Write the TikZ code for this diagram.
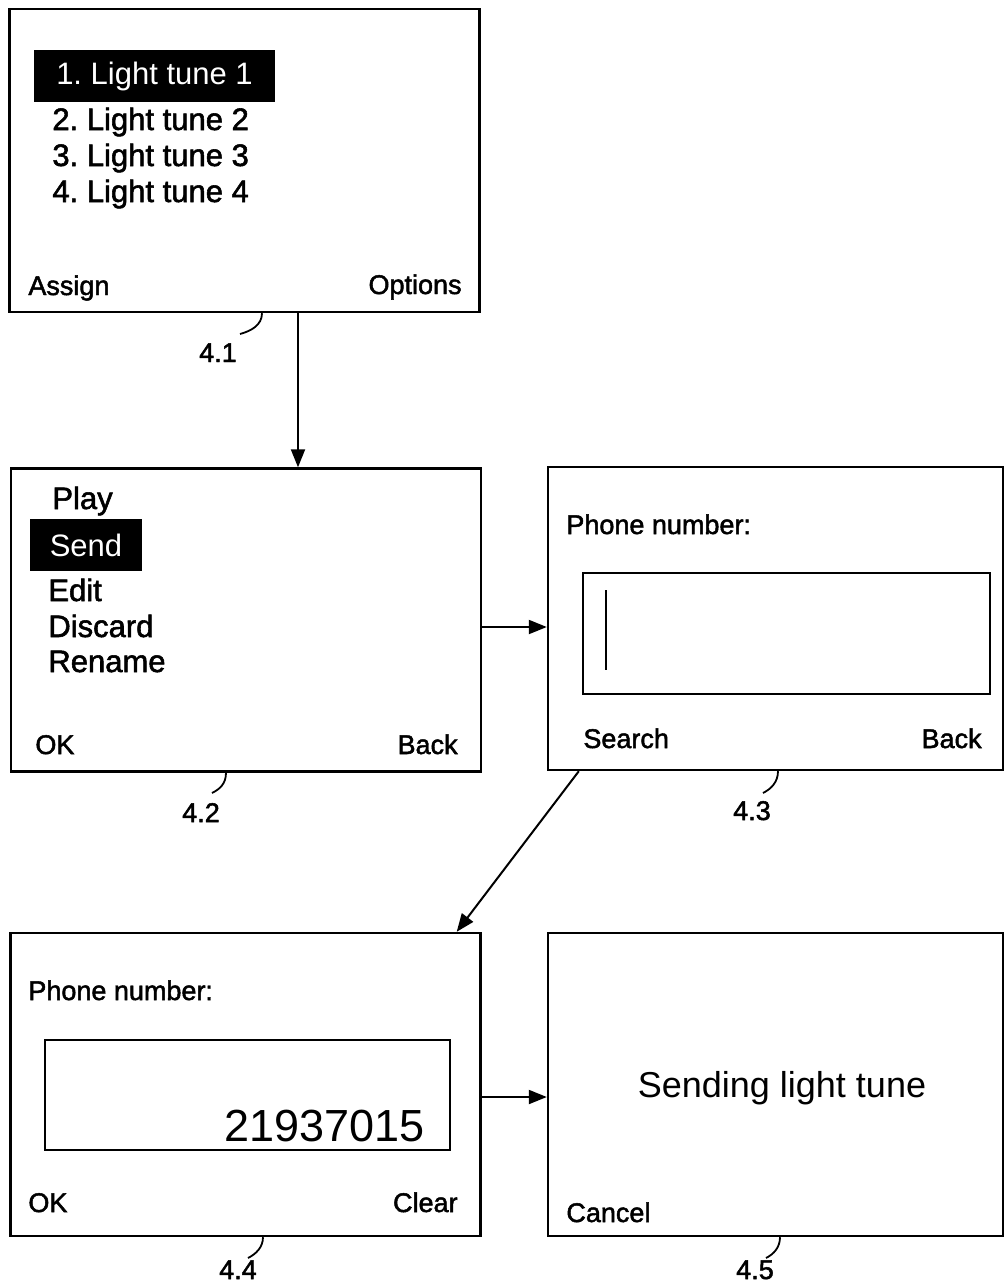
\documentclass[tikz,border=0pt]{standalone}
\usepackage{fontspec}
\setmainfont{Liberation Sans}
\newfontface\heavyface{Liberation Sans}[FakeBold=1.8]
\usetikzlibrary{arrows.meta,positioning,calc}

\begin{document}
\begin{tikzpicture}[
        x=0.5pt, y=-0.5pt,
        screen/.style={
            draw,
            line width=1.2pt,
            inner sep=0pt,
            minimum width=235pt,
            minimum height=151.5pt
        },
        field/.style={draw, line width=1pt, inner sep=0pt},
        menuitem/.style={inner sep=0pt, font=\fontsize{15.5}{18}\selectfont\heavyface\frenchspacing},
        selected/.style={inner sep=0pt, font=\fontsize{15.5}{18}\selectfont\frenchspacing,
            fill=black, text=white, minimum height=26pt},
        softkey/.style={inner sep=0pt, font=\fontsize{13.5}{16}\selectfont\heavyface},
        figlabel/.style={inner sep=0pt, font=\fontsize{13.5}{16}\selectfont\heavyface},
        arrow/.style={-{Triangle[length=9pt,width=7pt]}, line width=1pt},
        leader/.style={line width=0.9pt}
    ]
    \useasboundingbox (0,0) rectangle (1005,1285);

    % screens
    \node[screen] (tunes) at (244.5,160.5) {};
    \node[screen] (menu) at (246,620) {};
    \node[screen, minimum width=227.5pt] (entry) at (775.5,618.5) {};
    \node[screen] (number) at (245.5,1084.5) {};
    \node[screen, minimum width=227.5pt] (sending) at (775.5,1084.5) {};

    % 4.1 tune list
    \node[selected, minimum width=120.5pt] (tune1) at (154.5,76) {1. Light tune 1};
    \node[menuitem, anchor=base west] (tune2) at (52,130) {2. Light tune 2};
    \node[menuitem, anchor=base west] (tune3) at (52,166) {3. Light tune 3};
    \node[menuitem, anchor=base west] (tune4) at (52,202) {4. Light tune 4};
    \node[softkey, anchor=base west] (assign) at (28,295) {Assign};
    \node[softkey, anchor=base east] (options) at (462,294) {Options};

    % 4.2 options menu
    \node[menuitem, anchor=base west] (play) at (52,509) {Play};
    \node[selected, minimum width=56pt] (send) at (86,545) {Send};
    \node[menuitem, anchor=base west] (edit) at (48,601) {Edit};
    \node[menuitem, anchor=base west] (discard) at (48,637) {Discard};
    \node[menuitem, anchor=base west] (rename) at (48,672) {Rename};
    \node[softkey, anchor=base west] (ok1) at (35,754) {OK};
    \node[softkey, anchor=base east] (back1) at (458,754) {Back};

    % 4.3 empty number entry
    \node[softkey, anchor=base west] (phone1) at (566,534) {Phone number:};
    \node[field, minimum width=203.5pt, minimum height=60.5pt] (field1) at (786.5,633.5) {};
    \draw[line width=1.2pt] (606,590) -- (606,670);
    \node[softkey, anchor=base west] (search) at (583,748) {Search};
    \node[softkey, anchor=base east] (back2) at (982,748) {Back};

    % 4.4 number typed in
    \node[softkey, anchor=base west] (phone2) at (28,1000) {Phone number:};
    \node[field, minimum width=202.5pt, minimum height=55pt] (field2) at (247.5,1095) {};
    \node[inner sep=0pt, anchor=base east, font=\fontsize{22.5}{26}\selectfont] (digits) at (425,1141) {21937015};
    \node[softkey, anchor=base west] (ok2) at (28,1212) {OK};
    \node[softkey, anchor=base east] (clear) at (458,1212) {Clear};

    % 4.5 sending
    \node[inner sep=0pt, anchor=base, font=\fontsize{18}{22}\selectfont] (sendmsg) at (782,1097) {Sending light tune};
    \node[softkey, anchor=base west] (cancel) at (566,1222) {Cancel};

    % figure labels
    \node[figlabel, anchor=base] (tuneslabel) at (218,362) {4.1};
    \node[figlabel, anchor=base] (menulabel) at (201,822) {4.2};
    \node[figlabel, anchor=base] (entrylabel) at (752,820) {4.3};
    \node[figlabel, anchor=base] (numberlabel) at (238,1279) {4.4};
    \node[figlabel, anchor=base] (sendinglabel) at (755,1279) {4.5};

    \draw[leader] ($(tunes.south)+(17.5,0)$) .. controls +(0,12) and +(11,-3) .. ($(tuneslabel.base)+(22,-28)$);
    \draw[leader] ($(menu.south)+(-20,0)$) .. controls +(0,11) and +(8,-4) .. ($(menulabel.base)+(11,-29)$);
    \draw[leader] ($(entry.south)+(2.5,0)$) .. controls +(0,11) and +(8,-4) .. ($(entrylabel.base)+(11,-27)$);
    \draw[leader] ($(number.south)+(17.5,0)$) .. controls +(0,10) and +(8,-4) .. ($(numberlabel.base)+(10,-21)$);
    \draw[leader] ($(sending.south)+(4.5,0)$) .. controls +(0,10) and +(8,-4) .. ($(sendinglabel.base)+(11,-21)$);

    % transitions
    \coordinate (down) at (298,0);
    \coordinate (row2) at (0,627);
    \coordinate (row3) at (0,1097);
    \draw[arrow] (tunes.south -| down) -- (menu.north -| down);
    \draw[arrow] (menu.east |- row2) -- (entry.west |- row2);
    \draw[arrow] ($(entry.south west)+(32,0)$) -- ($(number.north east)+(-25,0)$);
    \draw[arrow] (number.east |- row3) -- (sending.west |- row3);
\end{tikzpicture}
\end{document}
